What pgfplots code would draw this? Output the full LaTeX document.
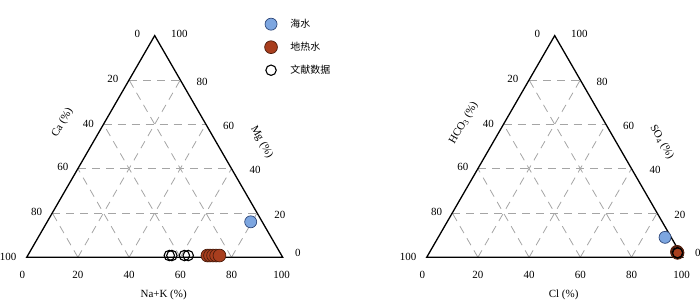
\documentclass[border=0pt]{standalone}
\usepackage{pgfplots}
\pgfplotsset{compat=1.18}
\usepackage{pgfplotstable}
\usepackage{fontspec}
\setmainfont{Liberation Serif}
\newfontfamily\cjk{Noto Sans CJK SC}

\definecolor{seafill}{RGB}{125,166,224}
\definecolor{seaedge}{RGB}{45,70,120}
\definecolor{geofill}{RGB}{168,62,30}
\definecolor{geoedge}{RGB}{75,28,12}
\definecolor{gridgray}{RGB}{165,165,165}

% ternary data: a = bottom-right component (%), b = apex component (%)
\pgfplotstableread{
a b
79.5 16.0
}\seaL
\pgfplotstableread{
a b
70.2 0.8
71.2 0.8
72.4 0.8
73.6 0.8
74.9 0.8
}\geoL
\pgfplotstableread{
a b
55.3 0.8
56.3 0.8
61.2 0.8
62.7 0.8
}\litL
\pgfplotstableread{
a b
88.6 9.0
}\seaR
\pgfplotstableread{
a b
96.5 2.5
96.8 2.2
97.0 2.0
}\geoR
\pgfplotstableread{
a b
96.9 2.1
97.1 1.9
}\litR

\pgfplotsset{
  tern/.style={x=2.56bp, y=2.56bp, xmin=0, xmax=100, ymin=0, ymax=86.6025,
    hide axis, clip=false, anchor=south west, enlargelimits=false},
  sea/.style={only marks, mark=*, mark size=6bp,
    mark options={fill=seafill, draw=seaedge, line width=0.7bp}},
  geo/.style={only marks, mark=*, mark size=6.4bp,
    mark options={fill=geofill, draw=geoedge, line width=0.7bp}},
  lit/.style={only marks, mark=o, mark size=5.2bp,
    mark options={draw=black, fill=none, line width=1.1bp}},
}
\tikzset{
  tgrid/.style={gridgray, line width=0.8bp, dash pattern=on 8bp off 6bp},
  tframe/.style={black, line width=1.3bp, line join=miter},
}
\newcommand{\terngrid}{%
  \pgfplotsinvokeforeach{20,40,60,80}{%
    \draw[tgrid] (axis cs:##1/2,0.8660254*##1) -- (axis cs:100-##1/2,0.8660254*##1);
    \draw[tgrid] (axis cs:##1,0) -- (axis cs:50+##1/2,86.60254-0.8660254*##1);
    \draw[tgrid] (axis cs:100-##1,0) -- (axis cs:50-##1/2,86.60254-0.8660254*##1);
  }%
  \draw[tframe] (axis cs:0,0) -- (axis cs:100,0) -- (axis cs:50,86.60254) -- cycle;
  % bottom labels
  \node at (axis cs:-1.7,-6.9) {0};
  \node at (axis cs:20,-6.9) {20};
  \node at (axis cs:40,-6.9) {40};
  \node at (axis cs:60,-6.9) {60};
  \node at (axis cs:80,-6.9) {80};
  \node at (axis cs:99.6,-6.9) {100};
  % left labels
  \node at (axis cs:43.2,87.2) {0};
  \node at (axis cs:33.7,69.6) {20};
  \node at (axis cs:24.1,52.3) {40};
  \node at (axis cs:14.1,35.2) {60};
  \node at (axis cs:3.9,17.8) {80};
  \node at (axis cs:-7.3,0.2) {100};
  % right labels
  \node at (axis cs:59.6,87.1) {100};
  \node at (axis cs:68.5,68.6) {80};
  \node at (axis cs:78.9,51.5) {60};
  \node at (axis cs:89.2,34.0) {40};
  \node at (axis cs:98.9,16.7) {20};
  \node at (axis cs:105.9,1.7) {0};
}

\begin{document}
\fontsize{11}{13}\selectfont
\begin{tikzpicture}
\useasboundingbox (0,0) rectangle (700bp,301bp);
\begin{axis}[tern, at={(26.7bp,43.7bp)},
  legend style={draw=none, fill=none, at={(0.917,1.093)}, anchor=north west,
    font=\cjk\fontsize{10}{12}\selectfont, row sep=9bp,
    /tikz/every odd column/.append style={column sep=11bp}},
  legend cell align=left]
\addplot[sea] table[x expr=\thisrow{a}+0.5*\thisrow{b}, y expr=0.8660254*\thisrow{b}] {\seaL};
\addplot[geo] table[x expr=\thisrow{a}+0.5*\thisrow{b}, y expr=0.8660254*\thisrow{b}] {\geoL};
\addplot[lit] table[x expr=\thisrow{a}+0.5*\thisrow{b}, y expr=0.8660254*\thisrow{b}] {\litL};
\legend{海水, 地热水, 文献数据}
\terngrid
\node[rotate=60, inner sep=0pt] at (axis cs:14,52.5) {Ca (\%)};
\node[rotate=-60, inner sep=0pt] at (axis cs:91.8,45) {Mg (\%)};
\node at (axis cs:53.5,-14.7) {Na+K (\%)};
\end{axis}
\begin{axis}[tern, at={(426.7bp,43.7bp)}]
\addplot[sea] table[x expr=\thisrow{a}+0.5*\thisrow{b}, y expr=0.8660254*\thisrow{b}] {\seaR};
\addplot[geo] table[x expr=\thisrow{a}+0.5*\thisrow{b}, y expr=0.8660254*\thisrow{b}] {\geoR};
\addplot[lit] table[x expr=\thisrow{a}+0.5*\thisrow{b}, y expr=0.8660254*\thisrow{b}] {\litR};
\terngrid
\node[rotate=60, inner sep=0pt] at (axis cs:14.5,52.5) {HCO\textsubscript{3} (\%)};
\node[rotate=-60, inner sep=0pt] at (axis cs:91.8,45) {SO\textsubscript{4} (\%)};
\node at (axis cs:53.5,-14.7) {Cl (\%)};
\end{axis}
\end{tikzpicture}
\end{document}
